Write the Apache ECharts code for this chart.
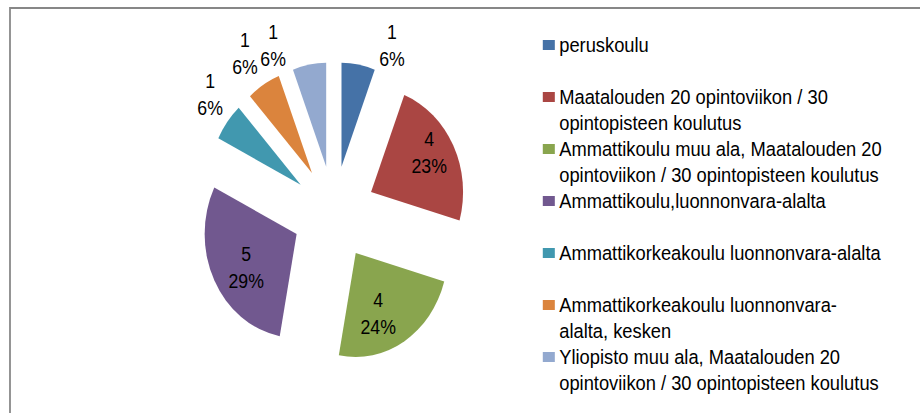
<!DOCTYPE html>
<html>
<head>
<meta charset="utf-8">
<script src="https://cdn.jsdelivr.net/npm/echarts@6/dist/echarts.min.js"></script>
<style>
html, body { margin: 0; padding: 0; overflow: hidden; background: #fff; width: 920px; height: 413px; }
#main { width: 1040px; height: 413px; transform: scaleX(0.8846); transform-origin: 0 0; }
</style>
</head>
<body>
<div id="main"></div>
<script>
// ---- data ----
const categories = [
  'peruskoulu',
  'Maatalouden 20 opintoviikon / 30 opintopisteen koulutus',
  'Ammattikoulu muu ala, Maatalouden 20 opintoviikon / 30 opintopisteen koulutus',
  'Ammattikoulu,luonnonvara-alalta',
  'Ammattikorkeakoulu luonnonvara-alalta',
  'Ammattikorkeakoulu luonnonvara-alalta, kesken',
  'Yliopisto muu ala, Maatalouden 20 opintoviikon / 30 opintopisteen koulutus'
];
const values = [1, 4, 4, 5, 1, 1, 1];
const percentLabels = ['6%', '23%', '24%', '29%', '6%', '6%', '6%'];
const legendLines = [
  ['peruskoulu'],
  ['Maatalouden 20 opintoviikon / 30', 'opintopisteen koulutus'],
  ['Ammattikoulu muu ala, Maatalouden 20', 'opintoviikon / 30 opintopisteen koulutus'],
  ['Ammattikoulu,luonnonvara-alalta'],
  ['Ammattikorkeakoulu luonnonvara-alalta'],
  ['Ammattikorkeakoulu luonnonvara-', 'alalta, kesken'],
  ['Yliopisto muu ala, Maatalouden 20', 'opintoviikon / 30 opintopisteen koulutus']
];
const colors = ['#4572A7', '#AA4643', '#89A54E', '#71588F', '#4198AF', '#DB843D', '#93A9CF'];
// label placement tuning: [labelLine length, labelLine length2]
const labelTune = [[19, 15], [-15, -39], [-33, -37], [-28, -36], [45, -36], [37, -18], [19, 18]];

const FONT = 'Liberation Sans, Arial, sans-serif';
const chart = echarts.init(document.getElementById('main'), null, { renderer: 'svg' });

const pieData = categories.map((name, i) => ({
  name: name,
  value: values[i],
  selected: true,
  itemStyle: { color: colors[i] },
  labelLine: { show: false, length: labelTune[i][0], length2: labelTune[i][1] }
}));

chart.setOption({
  animation: false,
  backgroundColor: '#fff',
  graphic: [{
    type: 'rect',
    shape: { x: 11.3, y: 8, width: 2000, height: 1000 },
    style: { fill: 'none', stroke: '#878787', lineWidth: 2 },
    silent: true
  }],
  legend: {
    orient: 'vertical',
    left: 613.6,
    top: 6,
    padding: 0,
    itemGap: -26,
    itemWidth: 13.6,
    itemHeight: 10,
    icon: 'rect',
    selectedMode: false,
    data: categories,
    formatter: function (name) {
      const lines = legendLines[categories.indexOf(name)];
      // a blank line above keeps the first text line level with the key
      return ' \n' + (lines.length === 1 ? lines[0] + '\n ' : lines.join('\n'));
    },
    textStyle: {
      fontFamily: FONT,
      fontSize: 20.7,
      lineHeight: 26,
      color: '#000'
    }
  },
  series: [{
    type: 'pie',
    center: [377.4, 213],
    radius: 104,
    startAngle: 90,
    clockwise: true,
    selectedMode: 'multiple',
    selectedOffset: 47,
    avoidLabelOverlap: false,
    minShowLabelAngle: 0,
    labelLayout: { hideOverlap: false },
    emphasis: { disabled: true },
    label: {
      show: true,
      position: 'outside',
      distanceToLabelLine: 5,
      formatter: function (p) {
        return '{c|' + p.value + '}\n{c|' + percentLabels[p.dataIndex] + '}';
      },
      rich: {
        c: { align: 'center', fontFamily: FONT, fontSize: 20, lineHeight: 27, color: '#000' }
      }
    },
    labelLine: { show: false },
    data: pieData
  }]
});
</script>
</body>
</html>
